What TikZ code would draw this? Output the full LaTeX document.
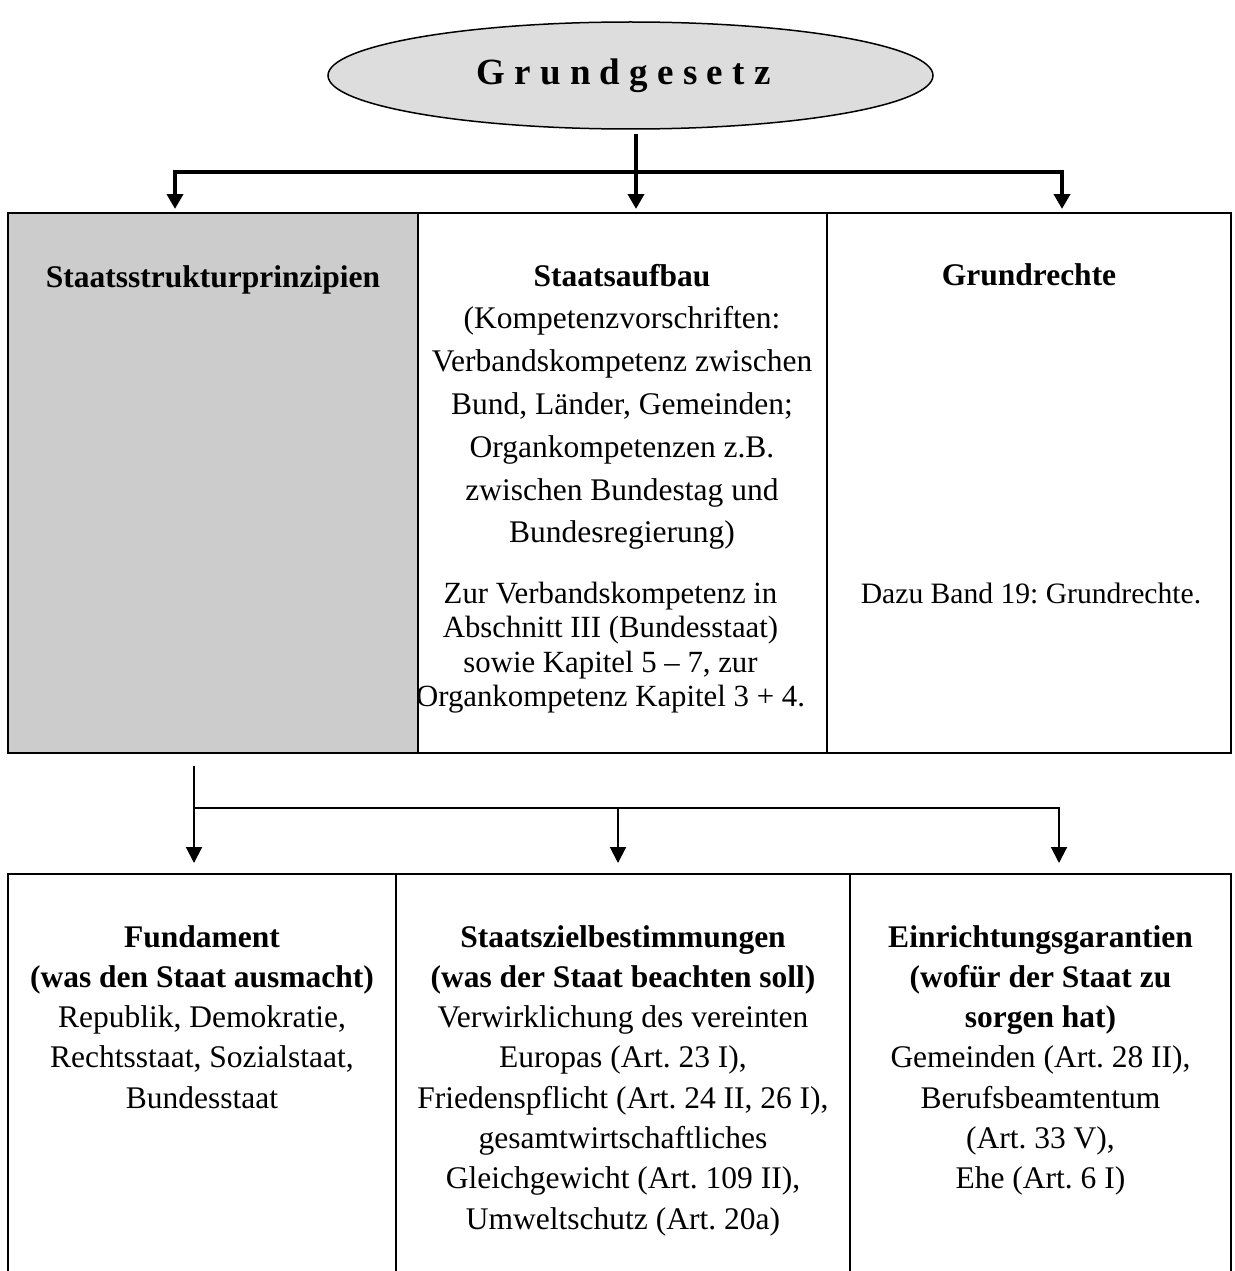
\documentclass[tikz,border=0pt]{standalone}
\usepackage{fontspec}
\setmainfont{Liberation Serif}
\usetikzlibrary{shapes.geometric,arrows.meta}
\definecolor{cellgray}{HTML}{CCCCCC}
\definecolor{ellgray}{HTML}{DDDDDD}
\newcommand{\firststrut}{\rule{0pt}{25pt}}
\frenchspacing
\begin{document}
\begin{tikzpicture}[x=1pt,y=-1pt,
  cell/.style={draw,line width=2.2pt,rectangle,anchor=north west,inner sep=0pt,outer sep=0pt},
  txt/.style={inner sep=0pt,outer sep=0pt,align=center,font=\fontsize{31.5}{42.8}\selectfont\frenchspacing},
  txtsmall/.style={txt,font=\fontsize{30.8}{34.5}\selectfont\frenchspacing},
  txtnote/.style={txt,font=\fontsize{29.6}{34.5}\selectfont\frenchspacing},
  txtlow/.style={txt,font=\fontsize{31.5}{40.3}\selectfont\frenchspacing},
  bigarrow/.style={line width=4pt,-{Triangle[length=15pt,width=16pt]}},
  smallarrow/.style={line width=2pt,-{Triangle[length=16pt,width=16pt]}}
]
\clip (0,0) rectangle (1234,1271);
\fill[white] (0,0) rectangle (1234,1271);

% ellipse
\node[ellipse,draw,line width=1.5pt,fill=ellgray,minimum width=605pt,minimum height=107pt,inner sep=0pt] (ell) at (630.5,75.5) {};
\node[inner sep=0pt,anchor=base,font=\fontsize{37}{44}\selectfont\bfseries] (gg) at (623.5,85) {G r u n d g e s e t z};

% top row cells
\node[cell,fill=cellgray,minimum width=410pt,minimum height=540pt] (c1) at (8,213) {};
\node[cell,minimum width=409pt,minimum height=540pt] (c2) at (418,213) {};
\node[cell,minimum width=404pt,minimum height=540pt] (c3) at (827,213) {};

% bottom row cells (open at the bottom)
\node[cell,minimum width=388pt,minimum height=420pt] (d1) at (8,874) {};
\node[cell,minimum width=454pt,minimum height=420pt] (d2) at (396,874) {};
\node[cell,minimum width=381pt,minimum height=420pt] (d3) at (850,874) {};

% top row texts
\node[txt,anchor=base] (t1) at (213,287) {\textbf{Staatsstrukturprinzipien}};
\node[txt,anchor=north] (t2) at (622,261) {\firststrut\textbf{Staatsaufbau}\\(Kompetenzvorschriften:\\Verbandskompetenz zwischen\\Bund, Länder, Gemeinden;\\Organkompetenzen z.B.\\zwischen Bundestag und\\Bundesregierung)};
\node[txtsmall,anchor=north] (t3) at (610.5,578) {\firststrut Zur Verbandskompetenz in\\Abschnitt III (Bundesstaat)\\sowie Kapitel 5 – 7, zur\\Organkompetenz Kapitel 3 + 4.};
\node[txt,anchor=base] (t4) at (1029,285) {\textbf{Grundrechte}};
\node[txtnote,anchor=base] (t5) at (1031,603) {Dazu Band 19: Grundrechte.};

% bottom row texts
\node[txtlow,anchor=north] (b1) at (202,922) {\firststrut\textbf{Fundament}\\\textbf{(was den Staat ausmacht)}\\Republik, Demokratie,\\Rechtsstaat, Sozialstaat,\\Bundesstaat};
\node[txtlow,anchor=north] (b2) at (623,922) {\firststrut\textbf{Staatszielbestimmungen}\\\textbf{(was der Staat beachten soll)}\\Verwirklichung des vereinten\\Europas (Art. 23 I),\\Friedenspflicht (Art. 24 II, 26 I),\\gesamtwirtschaftliches\\Gleichgewicht (Art. 109 II),\\Umweltschutz (Art. 20a)};
\node[txtlow,anchor=north] (b3) at (1040.5,922) {\firststrut\textbf{Einrichtungsgarantien}\\\textbf{(wofür der Staat zu}\\\textbf{sorgen hat)}\\Gemeinden (Art. 28 II),\\Berufsbeamtentum\\(Art. 33 V),\\Ehe (Art. 6 I)};

% upper connectors
\coordinate (xL) at (175,172);
\coordinate (xM) at (636,172);
\coordinate (xR) at (1062,172);
\draw[bigarrow] ([yshift=-4pt]ell.south -| xM) -- ([yshift=4pt]c2.north -| xM);
\draw[bigarrow] (xM) -| ([yshift=4pt]c1.north -| xL);
\draw[bigarrow] (xM) -| ([yshift=4pt]c3.north -| xR);

% lower connectors
\coordinate (yS) at (194,766);
\coordinate (yJ) at (194,808);
\coordinate (yM) at (618,808);
\coordinate (yR) at (1059,808);
\draw[smallarrow] (yS) -- ([yshift=11pt]d1.north -| yS);
\draw[smallarrow] (yJ) -| ([yshift=11pt]d3.north -| yR);
\draw[smallarrow] (yM) -- ([yshift=11pt]d2.north -| yM);
\end{tikzpicture}
\end{document}
